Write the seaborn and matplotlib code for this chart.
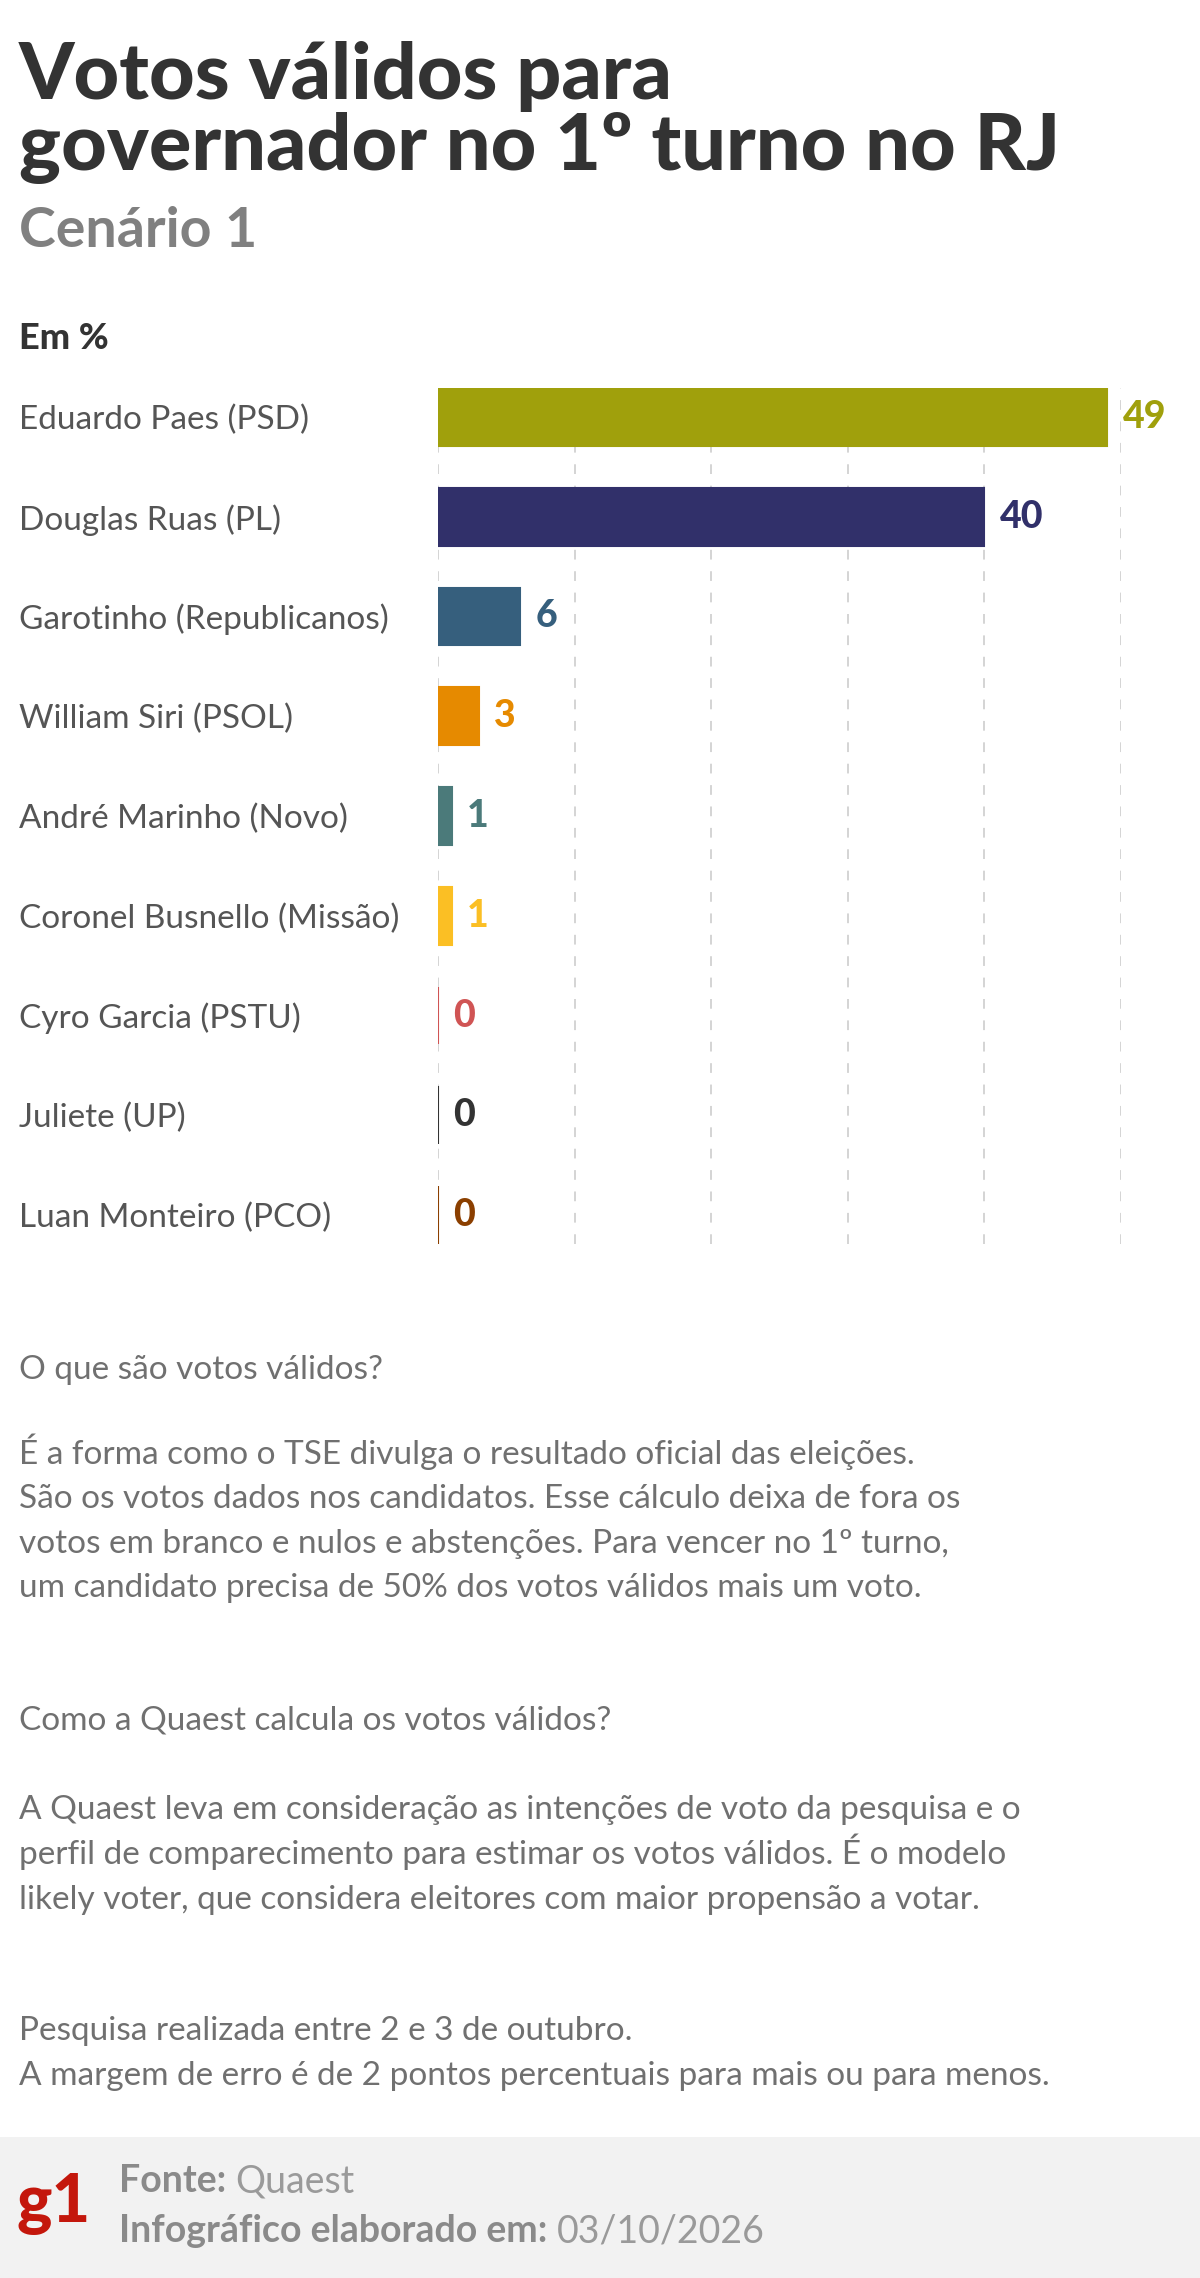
import numpy as np
import pandas as pd
import seaborn as sns
import matplotlib.pyplot as plt
from matplotlib.patches import Rectangle

# data
candidates = [
    "Eduardo Paes (PSD)",
    "Douglas Ruas (PL)",
    "Garotinho (Republicanos)",
    "William Siri (PSOL)",
    "André Marinho (Novo)",
    "Coronel Busnello (Missão)",
    "Cyro Garcia (PSTU)",
    "Juliete (UP)",
    "Luan Monteiro (PCO)",
]
votes = [49, 40, 6, 3, 1, 1, 0, 0, 0]
bar_colors = ["#a0a00c", "#31306a", "#365f7d", "#e68a00", "#4b7a7a",
              "#fbbf24", "#d05454", "#333333", "#8b3f00"]
grid_ticks = [0, 10, 20, 30, 40, 50]

title_lines = ["Votos válidos para", "governador no 1º turno no RJ"]
subtitle = "Cenário 1"
unit_label = "Em %"
notes = [
    ("O que são votos válidos?", 1379),
    ("É a forma como o TSE divulga o resultado oficial das eleições.", 1464),
    ("São os votos dados nos candidatos. Esse cálculo deixa de fora os", 1508),
    ("votos em branco e nulos e abstenções. Para vencer no 1º turno,", 1553),
    ("um candidato precisa de 50% dos votos válidos mais um voto.", 1597),
    ("Como a Quaest calcula os votos válidos?", 1730),
    ("A Quaest leva em consideração as intenções de voto da pesquisa e o", 1819),
    ("perfil de comparecimento para estimar os votos válidos. É o modelo", 1864),
    ("likely voter, que considera eleitores com maior propensão a votar.", 1909),
    ("Pesquisa realizada entre 2 e 3 de outubro.", 2040),
    ("A margem de erro é de 2 pontos percentuais para mais ou para menos.", 2085),
]

df = pd.DataFrame({"candidato": candidates, "votos": votes})

W, H = 1200, 2278
sns.set_style("white")
plt.rcParams["font.family"] = ["Lato", "DejaVu Sans"]

fig = plt.figure(figsize=(W / 100, H / 100), dpi=100)
fig.patch.set_facecolor("white")


def fy(px):
    return 1 - px / H


# bar area: x=0 at 438px, 50 at 1121px; top of first bar 388px, bottom of last 1244px
ax = fig.add_axes([438 / W, fy(1244), (1121 - 438) / W, (1244 - 388) / H])
sns.barplot(data=df, x="votos", y="candidato", hue="candidato", palette=bar_colors,
            orient="h", width=0.58, legend=False, ax=ax, zorder=3,
            saturation=1, linewidth=1.5)
for patch, c in zip(ax.patches, bar_colors):
    patch.set_edgecolor(c)

ax.set_xlim(0, 50)
ax.set_ylim(len(candidates) - 1 + 0.29, -0.29)
for t in grid_ticks:
    ax.axvline(t, color="#d4d4d4", linestyle=(0, (5, 6)), linewidth=1.4, zorder=1)
for s in ax.spines.values():
    s.set_visible(False)
ax.set_xticks([])
ax.set_xlabel("")
ax.set_ylabel("")
ax.tick_params(axis="y", length=0, pad=(438 - 19) * 0.72)
ax.set_yticks(range(len(candidates)))
ax.set_yticklabels(candidates, ha="left", fontsize=24, color="#555555")

for i, (v, c) in enumerate(zip(votes, bar_colors)):
    ax.annotate(str(v), xy=(v, i), xytext=(11, 0), textcoords="offset points",
                ha="left", va="center", fontsize=27, fontweight="black", color=c,
                annotation_clip=False)

# header
fig.text(19 / W, fy(99), title_lines[0], fontsize=57, fontweight="black",
         color="#333333", va="baseline")
fig.text(19 / W, fy(170), title_lines[1], fontsize=57, fontweight="black",
         color="#333333", va="baseline")
fig.text(19 / W, fy(247), subtitle, fontsize=40, fontweight="bold",
         color="#808080", va="baseline")
fig.text(19 / W, fy(349), unit_label, fontsize=26, fontweight="black",
         color="#333333", va="baseline")

for txt, y in notes:
    fig.text(19 / W, fy(y), txt, fontsize=24, color="#707070", va="baseline")

# footer
fig.patches.append(Rectangle((0, 0), 1, (H - 2137) / H, transform=fig.transFigure,
                             facecolor="#f2f2f2", edgecolor="none", zorder=0))
fig.text(17 / W, fy(2222), "g1", fontsize=48, fontweight="black",
         color="#c4170c", va="baseline")

renderer = fig.canvas.get_renderer()
for bold, reg, y in [("Fonte: ", "Quaest", 2192),
                     ("Infográfico elaborado em: ", "03/10/2026", 2242)]:
    t = fig.text(119 / W, fy(y), bold, fontsize=27, fontweight="bold",
                 color="#8a8a8a", va="baseline")
    bb = t.get_window_extent(renderer=renderer)
    fig.text(bb.x1 / W, fy(y), reg, fontsize=27, color="#9a9a9a", va="baseline")

fig.savefig("out.png", dpi=100)
